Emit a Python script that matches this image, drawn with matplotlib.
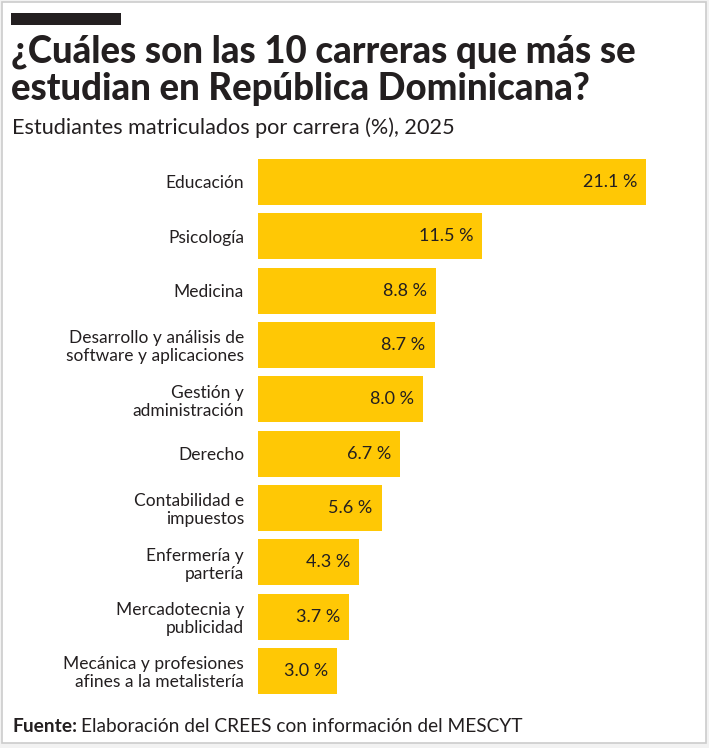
import matplotlib
matplotlib.use('Agg')
import matplotlib.pyplot as plt
from matplotlib.patches import Rectangle

# data
carreras = ['Educación', 'Psicología', 'Medicina',
            'Desarrollo y análisis de\nsoftware y aplicaciones',
            'Gestión y\nadministración', 'Derecho',
            'Contabilidad e\nimpuestos', 'Enfermería y\npartería',
            'Mercadotecnia y\npublicidad',
            'Mecánica y profesiones\nafines a la metalistería']
porcentaje = [21.1, 11.5, 8.8, 8.7, 8.0, 6.7, 5.6, 4.3, 3.7, 3.0]

W, H = 709, 748
amarillo = '#FFC805'
texto = '#231f20'
plt.rcParams['font.family'] = ['Lato', 'DejaVu Sans']

fig = plt.figure(figsize=(W / 100, H / 100), dpi=100)
fig.patch.set_facecolor('#f2f2f2')

# white card with grey border
fig.add_artist(Rectangle((2 / W, 1 - 743 / H), 704 / W, 741 / H, transform=fig.transFigure,
                         facecolor='white', edgecolor='#cccccc', lw=1.2, zorder=-2))
fig.add_artist(Rectangle((11 / W, 1 - 25 / H), 110 / W, 12 / H, transform=fig.transFigure,
                         facecolor=texto, edgecolor='none', zorder=-1))

def px(x, y):
    return x / W, 1 - y / H

fig.text(*px(11, 70), '¿Cuáles son las 10 carreras que más se\nestudian en República Dominicana?',
         fontsize=26.3, fontweight='black', color=texto, va='center', ha='left', linespacing=1.1)
fig.text(*px(12, 128), 'Estudiantes matriculados por carrera (%), 2025',
         fontsize=15.6, color=texto, va='center', ha='left')
fig.text(*px(12, 726), 'Fuente:', fontsize=13.8, fontweight='bold', color=texto, va='center')
fig.text(*px(81, 726), 'Elaboración del CREES con información del MESCYT',
         fontsize=13.8, color=texto, va='center')

# axes positioned in pixels
x0, x1, y0, y1 = 258, 700, 150, 700
ax = fig.add_axes([x0 / W, 1 - y1 / H, (x1 - x0) / W, (y1 - y0) / H])
escala = 17.07  # px per unit
off = 28 / escala
paso = 54.33
ax.set_xlim(-off, -off + (x1 - x0) / escala)
ax.set_ylim((y1 - 182) / paso, -(182 - y0) / paso)

pos = list(range(len(carreras)))
ax.barh(pos, [v + off for v in porcentaje], left=-off, height=46 / paso, color=amarillo)
for i, v in zip(pos, porcentaje):
    ax.text(v - 9 / escala, i, f'{v:.1f} %', ha='right', va='center', fontsize=13, color=texto)

ax.set_yticks(pos)
ax.set_yticklabels(carreras, fontsize=12.5, color=texto, linespacing=1.15)
ax.tick_params(axis='y', length=0, pad=10)
ax.set_xticks([])
for s in ax.spines.values():
    s.set_visible(False)
ax.patch.set_alpha(0)

fig.savefig('out.png', dpi=100)
